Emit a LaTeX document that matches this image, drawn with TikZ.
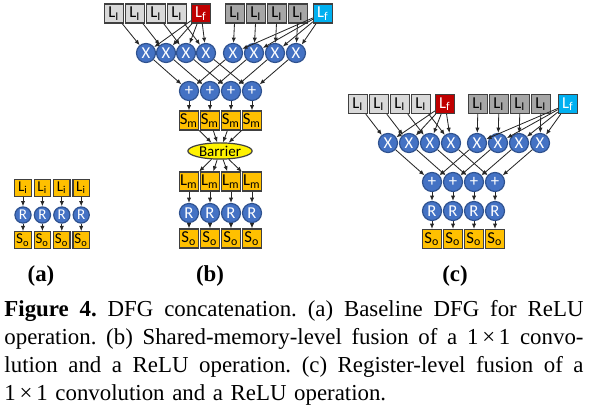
\documentclass[tikz,border=0pt]{standalone}
\usepackage{fontspec}
\newfontfamily\diafont{Carlito}
\newfontfamily\capfont{Liberation Serif}
\usetikzlibrary{arrows.meta,shapes.geometric}

\definecolor{ltgray}{HTML}{D9D9D9}
\definecolor{dkgray}{HTML}{A6A6A6}
\definecolor{boxline}{HTML}{404040}
\definecolor{opfill}{HTML}{4472C4}
\definecolor{opline}{HTML}{2F528F}
\definecolor{memfill}{HTML}{FFC000}
\definecolor{filtred}{HTML}{C00000}
\definecolor{filtcyan}{HTML}{00B0F0}

\newcommand\capline[1]{\leavevmode{\frenchspacing\spaceskip=0.25em plus 1fil\relax
  \hbox to 243.2pt{#1}}}

\tikzset{
  arr/.style={-{Latex[length=2.2pt,width=1.8pt]}, line width=0.35pt, black!85},
  inbox/.style={draw=boxline, line width=0.5pt, minimum size=8pt, inner sep=0pt,
    font=\diafont\fontsize{7}{7}\selectfont},
  membox/.style={inbox, fill=memfill},
  memsm/.style={membox, minimum size=6.9pt, font=\diafont\fontsize{6.3}{6.3}\selectfont},
  op/.style={circle, draw=opline, line width=0.5pt, fill=opfill, text=white,
    minimum size=8pt, inner sep=0pt, font=\diafont\fontsize{7}{7}\selectfont},
  opsm/.style={op, minimum size=6.8pt, font=\diafont\fontsize{6.3}{6.3}\selectfont},
  barrier/.style={ellipse, draw=boxline, line width=0.5pt, fill=yellow,
    minimum width=27pt, minimum height=6.8pt, inner sep=0pt,
    font=\diafont\fontsize{6.3}{6.3}\selectfont},
  sublabel/.style={font=\capfont\fontsize{9.6}{11.76}\selectfont\bfseries},
  caption/.style={text width=243.2pt, align=left, inner sep=0pt,
    font=\capfont\fontsize{9.6}{11.76}\selectfont}
}

\begin{document}
\begin{tikzpicture}[x=0.42pt,y=-0.42pt]
\useasboundingbox (0,0) rectangle (589,411);

% (a) baseline
\foreach \i in {1,...,4}{
  \node[memsm] (aL\i) at ({3.6+19.4*\i},188) {L\textsubscript{i}};
  \node[opsm] (aR\i) at ({3.6+19.4*\i},215) {R};
  \node[memsm] (aS\i) at ({3.6+19.4*\i},240) {S\textsubscript{o}};
  \draw[arr] (aL\i) -- (aR\i);
  \draw[arr] (aR\i) -- (aS\i);
}

% (b) shared-memory-level fusion
\foreach \i in {1,...,4}{
  \node[inbox,fill=ltgray] (bI\i) at ({93+21*\i},13.5) {L\textsubscript{I}};
  \node[inbox,fill=dkgray] (bJ\i) at ({214+21*\i},13.5) {L\textsubscript{I}};
  \node[op] (bX\i) at ({126+20*\i},53) {X};
  \node[op] (bY\i) at ({212+21*\i},53) {X};
  \node[op] (bP\i) at ({168+21*\i},91) {+};
  \node[membox] (bSm\i) at ({168+21*\i},120.5) {S\textsubscript{m}};
  \node[membox] (bLm\i) at ({168+21*\i},181.5) {L\textsubscript{m}};
  \node[op] (bR\i) at ({168+21*\i},213) {R};
  \node[membox] (bSo\i) at ({168+21*\i},238.5) {S\textsubscript{o}};
}
\node[inbox,fill=filtred,text=white] (bF) at (201,13.5) {L\textsubscript{f}};
\node[inbox,fill=filtcyan,text=white] (bG) at (323,13.5) {L\textsubscript{f}};
\node[barrier] (bB) at (220,151) {Barrier};
\foreach \i in {1,...,4}{
  \draw[arr] (bI\i) -- (bX\i);
  \draw[arr] (bF) -- (bX\i);
  \draw[arr] (bJ\i) -- (bY\i);
  \draw[arr] (bG) -- (bY\i);
  \draw[arr] (bX\i) -- (bP\i);
  \draw[arr] (bY\i) -- (bP\i);
  \draw[arr] (bP\i) -- (bSm\i);
  \draw[arr] (bSm\i) -- (bB);
  \draw[arr] (bB) -- (bLm\i);
  \draw[arr] (bLm\i) -- (bR\i);
  \draw[arr] (bR\i) -- (bSo\i);
}

% (c) register-level fusion
\foreach \i in {1,...,4}{
  \node[inbox,fill=ltgray] (cI\i) at ({337+21*\i},104) {L\textsubscript{I}};
  \node[inbox,fill=dkgray] (cJ\i) at ({457+21*\i},104) {L\textsubscript{I}};
  \node[op] (cX\i) at ({367+21*\i},143) {X};
  \node[op] (cY\i) at ({456+21*\i},143) {X};
  \node[op] (cP\i) at ({411+21*\i},182) {+};
  \node[op] (cR\i) at ({411+21*\i},211) {R};
  \node[membox] (cSo\i) at ({411+21*\i},239) {S\textsubscript{o}};
}
\node[inbox,fill=filtred,text=white] (cF) at (445,104) {L\textsubscript{f}};
\node[inbox,fill=filtcyan,text=white] (cG) at (568,104) {L\textsubscript{f}};
\foreach \i in {1,...,4}{
  \draw[arr] (cI\i) -- (cX\i);
  \draw[arr] (cF) -- (cX\i);
  \draw[arr] (cJ\i) -- (cY\i);
  \draw[arr] (cG) -- (cY\i);
  \draw[arr] (cX\i) -- (cP\i);
  \draw[arr] (cY\i) -- (cP\i);
  \draw[arr] (cP\i) -- (cR\i);
  \draw[arr] (cR\i) -- (cSo\i);
}

\node[sublabel] (la) at (41,276) {(a)};
\node[sublabel] (lb) at (210,276) {(b)};
\node[sublabel] (lc) at (455,276) {(c)};

\node[caption, anchor=north west] (cap) at (4,300) {%
\capline{\textbf{Figure 4.} DFG concatenation. (a) Baseline DFG for ReLU}\\
\capline{operation. (b) Shared-memory-level fusion of a 1\,×\,1 convo-}\\
\capline{lution and a ReLU operation. (c) Register-level fusion of a}\\
1\,×\,1 convolution and a ReLU operation.};
\end{tikzpicture}
\end{document}
